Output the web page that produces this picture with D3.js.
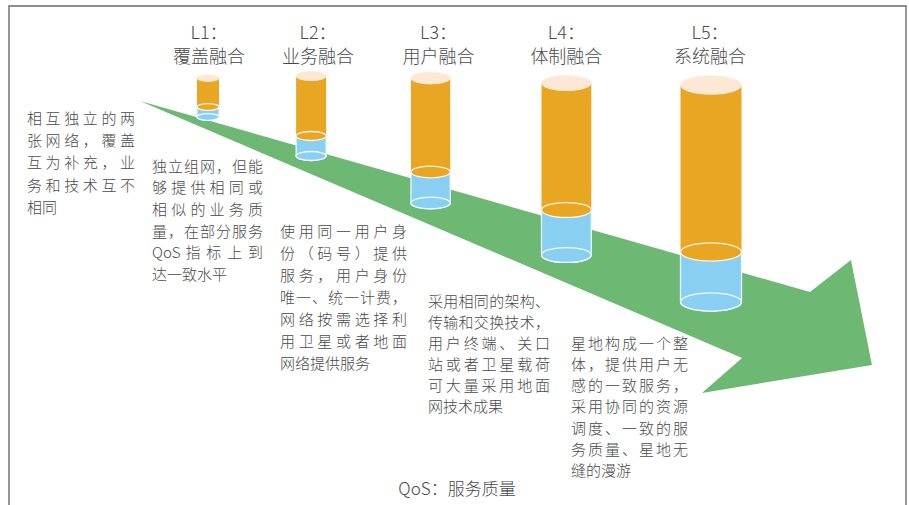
<!DOCTYPE html>
<html><head><meta charset="utf-8">
<script src="https://cdn.jsdelivr.net/npm/d3@7"></script>
<style>
html,body{margin:0;padding:0;background:#fff;}
svg{display:block;}
text{font-family:"Noto Sans CJK SC","Noto Sans",sans-serif;fill:#4a4a4a;font-weight:300;}
</style></head>
<body>
<svg id="c" width="909" height="505"></svg>
<script>
// ---- data ----
const levels = ["L1：","L2：","L3：","L4：","L5："];
const names = ["覆盖融合","业务融合","用户融合","体制融合","系统融合"];
const qosLevel = [1, 1.82, 2.77, 3.85, 5.0];        // position along the QoS axis
const baseDepth = [57, 96, 143, 195, 242];          // depth of cylinder base
const blueValues = [10, 20, 31, 45, 50];            // lower (blue) segment
const orangeValues = [29, 60, 94, 127, 167];        // upper (orange) segment
const arrowQ = [0.459, 5.787, 6.113, 6.280, 4.928, 5.247];
const arrowD = [41, 232, 200, 305, 333, 298];
const descLines = [
  ["相互独立的两","张网络，覆盖","互为补充，业","务和技术互不","相同"],
  ["独立组网，但能","够提供相同或","相似的业务质","量，在部分服务","QoS 指标上到","达一致水平"],
  ["使用同一用户身","份（码号）提供","服务，用户身份","唯一、统一计费，","网络按需选择利","用卫星或者地面","网络提供服务"],
  ["采用相同的架构、","传输和交换技术，","用户终端、关口","站或者卫星载荷","可大量采用地面","网技术成果"],
  ["星地构成一个整","体，提供用户无","感的一致服务，","采用协同的资源","调度、一致的服","务质量、星地无","缝的漫游"]
];
const footnote = "QoS：服务质量";

// ---- layout ----
const descLayout = [
  {x:27, y:117, w:108, lh:22.4},
  {x:152, y:165, w:111, lh:21.7},
  {x:280, y:230, w:127, lh:22},
  {x:428, y:300, w:122, lh:21},
  {x:571, y:342, w:117, lh:21.3}
];
const titleDx = [1, 7, 8, 0, -1];

const svg = d3.select("#c");
const x = d3.scaleLinear().domain([1,5]).range([208,711]);
const y = d3.scaleLinear().domain([0,250]).range([60,310]);
const r = d3.scaleLinear().domain([1,5]).range([11,30.5]);

// frame
svg.append("path").attr("d","M9,505 L9,6 L906,6 L906,505")
  .attr("fill","none").attr("stroke","#6a6a6a").attr("stroke-width",1.4);

// arrow
const pts = arrowQ.map((q,i)=>[x(q), y(arrowD[i])]);
svg.append("path").attr("d", d3.line()(pts)+"Z").attr("fill","#6db872");

// cylinders
const orange="#e9a622", blue="#88cff1", peach="#fce8d4";
qosLevel.forEach((q,i)=>{
  const cx=x(q), rx=r(q), ry=rx*0.3;
  const yb=y(baseDepth[i]), ys=y(baseDepth[i]-blueValues[i]), yt=y(baseDepth[i]-blueValues[i]-orangeValues[i]);
  const g=svg.append("g");
  g.append("path").attr("d",`M${cx-rx},${ys} L${cx-rx},${yb} A${rx},${ry} 0 0 0 ${cx+rx},${yb} L${cx+rx},${ys} Z`)
    .attr("fill",blue).attr("stroke","#eaf7fd").attr("stroke-width",1.3);
  g.append("ellipse").attr("cx",cx).attr("cy",yb).attr("rx",rx).attr("ry",ry)
    .attr("fill",blue).attr("stroke","#f2fafe").attr("stroke-width",1.3);
  g.append("path").attr("d",`M${cx-rx},${yt} L${cx-rx},${ys} L${cx+rx},${ys} L${cx+rx},${yt} Z`)
    .attr("fill",orange);
  g.append("ellipse").attr("cx",cx).attr("cy",ys).attr("rx",rx).attr("ry",ry)
    .attr("fill",orange).attr("stroke","#fdf3e6").attr("stroke-width",1.3);
  g.append("ellipse").attr("cx",cx).attr("cy",yt).attr("rx",rx).attr("ry",ry)
    .attr("fill",peach).attr("stroke","#fdf0e2").attr("stroke-width",1);
  svg.append("text").attr("x",cx+titleDx[i]).attr("y",31).attr("text-anchor","middle")
    .attr("dominant-baseline","central").attr("font-size",18).text(levels[i]);
  svg.append("text").attr("x",cx+titleDx[i]).attr("y",55).attr("text-anchor","middle")
    .attr("dominant-baseline","central").attr("font-size",18).text(names[i]);
});

// descriptions
descLines.forEach((lines,i)=>{
  const L=descLayout[i];
  lines.forEach((s,j)=>{
    const yy=L.y+j*L.lh;
    const m=s.match(/^([A-Za-z]+\s*)(.*)$/);
    if(m){
      const lead=svg.append("text").attr("x",L.x).attr("y",yy)
        .attr("dominant-baseline","central").attr("font-size",15).text(m[1].trim());
      const lw=lead.node().getComputedTextLength()+5;
      svg.append("text").attr("x",L.x+lw).attr("y",yy)
        .attr("dominant-baseline","central").attr("font-size",15).text(m[2])
        .attr("textLength",L.w-lw).attr("lengthAdjust","spacing");
      return;
    }
    const t=svg.append("text").attr("x",L.x).attr("y",yy)
      .attr("dominant-baseline","central").attr("font-size",15).text(s);
    if(j<lines.length-1) t.attr("textLength",L.w).attr("lengthAdjust","spacing");
  });
});

svg.append("text").attr("x",457).attr("y",487).attr("text-anchor","middle")
  .attr("dominant-baseline","central").attr("font-size",17).text(footnote);
</script>
</body></html>
